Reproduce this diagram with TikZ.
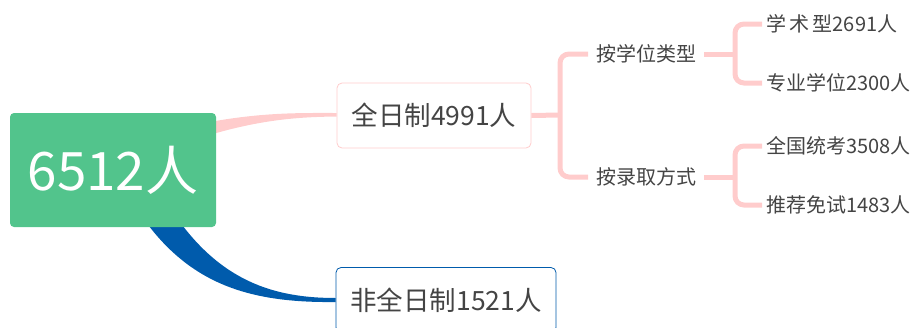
\documentclass[tikz,border=0pt]{standalone}
\usepackage{fontspec}
\setmainfont{Noto Sans CJK SC}
\usetikzlibrary{calc,backgrounds}
\definecolor{rootgreen}{HTML}{52C48C}
\definecolor{linkpink}{HTML}{FFCCCC}
\definecolor{linkblue}{HTML}{005BAC}
\definecolor{txtgray}{HTML}{444444}

\begin{document}
\begin{tikzpicture}[x=1pt,y=-1pt,
    rootbox/.style={rectangle,rounded corners=4pt,fill=rootgreen,text=white,
        minimum width=206pt,minimum height=114pt,font=\fontsize{53}{53}\selectfont},
    mainbox/.style={rectangle,rounded corners=5pt,draw=#1,fill=white,text=txtgray,
        line width=0.8pt,minimum height=65pt,font=\fontsize{26.5}{26.5}\selectfont},
    subtext/.style={anchor=west,inner xsep=#1,inner ysep=2pt,text=txtgray,
        font=\fontsize{20}{20}\selectfont},
    pinkline/.style={draw=linkpink,line width=5pt,rounded corners=9pt}]
    \useasboundingbox (0,0) rectangle (918,327);
    \node[rootbox] (root) at (113,170) {6512人};
    \node[mainbox=linkpink,minimum width=194pt] (qrz) at (434,115.5) {全日制4991人};
    \node[mainbox=linkblue,minimum width=220pt] (fqrz) at (446,300) {非全日制1521人};
    \node[subtext=8pt] (xwlx) at (588,54) {按学位类型};
    \node[subtext=8pt] (lqfs) at (588,177) {按录取方式};
    \node[subtext=4pt] (xsx) at (762,24) {学\,术\,型2691人};
    \node[subtext=4pt] (zyxw) at (762,83) {专业学位2300人};
    \node[subtext=4pt] (tk) at (762,146) {全国统考3508人};
    \node[subtext=4pt] (tm) at (762,205) {推荐免试1483人};
    \coordinate (b1) at (560,115);
    \coordinate (b2) at (735,54);
    \coordinate (b3) at (735,177);
    \begin{scope}[on background layer]
        \fill[linkpink] ($(root.north east)+(-16,11)$) .. controls (260,112) and (300,113) .. ($(qrz.west)+(0,-2.5)$)
            -- ($(qrz.west)+(0,1)$) .. controls (300,117) and (260,119) .. ($(root.north east)+(-16,25)$) -- cycle;
        \fill[linkblue] ($(root.south)+(60,-15)$) .. controls (220,282) and (275,298) .. ($(fqrz.west)+(0,-2)$)
            -- ($(fqrz.west)+(0,2)$) .. controls (250,303) and (188,285) .. ($(root.south)+(26,-15)$) -- cycle;
    \end{scope}
    \draw[pinkline] (qrz.east) -- (b1);
    \draw[pinkline] (xwlx.west) -| (b1) |- (lqfs.west);
    \draw[pinkline] (xsx.west) -| (b2) |- (zyxw.west);
    \draw[pinkline] (xwlx.east) -- (b2);
    \draw[pinkline] (tk.west) -| (b3) |- (tm.west);
    \draw[pinkline] (lqfs.east) -- (b3);
\end{tikzpicture}
\end{document}
